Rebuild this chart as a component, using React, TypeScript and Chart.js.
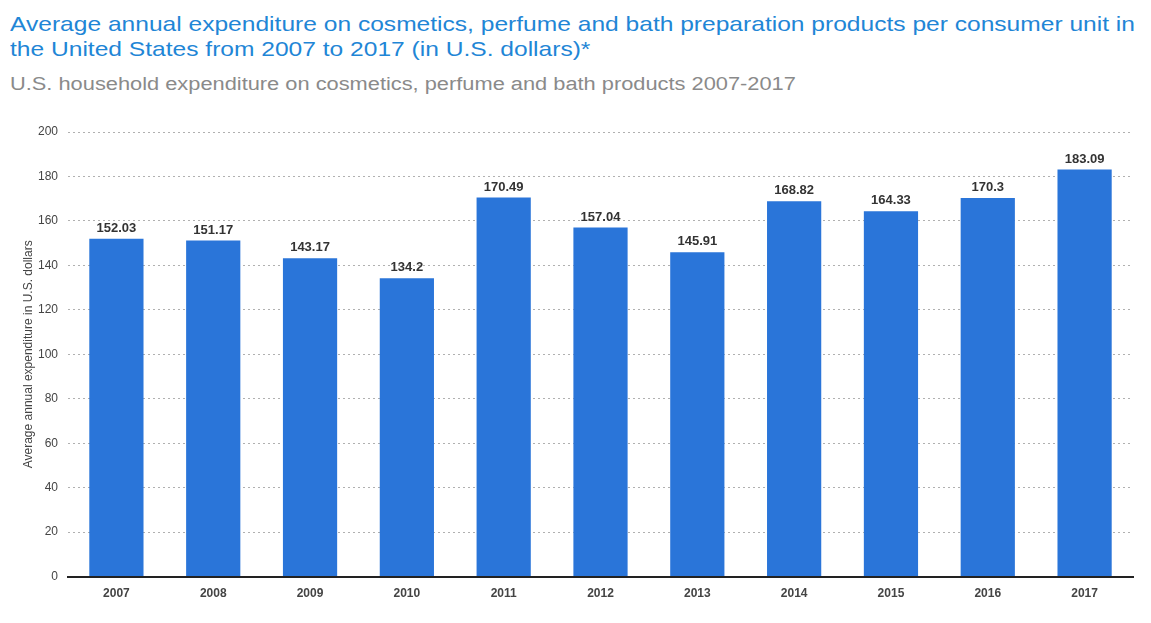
import React, { useEffect, useRef } from "react";
import { Chart, registerables } from "chart.js";

Chart.register(...registerables);

const categories = ["2007", "2008", "2009", "2010", "2011", "2012", "2013", "2014", "2015", "2016", "2017"];
const values = [152.03, 151.17, 143.17, 134.2, 170.49, 157.04, 145.91, 168.82, 164.33, 170.3, 183.09];
const valueLabels = ["152.03", "151.17", "143.17", "134.2", "170.49", "157.04", "145.91", "168.82", "164.33", "170.3", "183.09"];
const titleLines = [
  "Average annual expenditure on cosmetics, perfume and bath preparation products per consumer unit in",
  "the United States from 2007 to 2017 (in U.S. dollars)*",
];
const subtitle = "U.S. household expenditure on cosmetics, perfume and bath products 2007-2017";
const yAxisTitle = "Average annual expenditure in U.S. dollars";

const FONT = "'Liberation Sans', Arial, Helvetica, sans-serif";

const valueLabelPlugin = {
  id: "valueLabels",
  afterDatasetsDraw(chart: any) {
    const ctx = chart.ctx;
    const meta = chart.getDatasetMeta(0);
    ctx.save();
    ctx.font = `bold 13px ${FONT}`;
    ctx.fillStyle = "#333333";
    ctx.textAlign = "center";
    ctx.textBaseline = "alphabetic";
    meta.data.forEach((bar: any, i: number) => {
      ctx.fillText(valueLabels[i], bar.x, bar.y - 7);
    });
    ctx.restore();
  },
};

export default function App() {
  const canvasRef = useRef<HTMLCanvasElement | null>(null);

  useEffect(() => {
    document.body.style.margin = "0";
    const canvas = canvasRef.current;
    if (!canvas) return;
    const chart = new Chart(canvas, {
      type: "bar",
      data: {
        labels: categories,
        datasets: [
          {
            data: values,
            backgroundColor: "#2a75d9",
            categoryPercentage: 1,
            barPercentage: 0.56,
          },
        ],
      },
      options: {
        animation: false,
        responsive: false,
        maintainAspectRatio: false,
        layout: { padding: { top: 32, right: 18, bottom: 20, left: 0 } },
        plugins: {
          legend: { display: false },
          tooltip: { enabled: false },
          title: { display: false },
        },
        scales: {
          x: {
            grid: { display: false },
            border: { display: true, color: "#222222", width: 2 },
            ticks: {
              color: "#444444",
              font: { family: FONT, size: 12, weight: "bold" },
              padding: 2,
            },
          },
          y: {
            min: 0,
            max: 200,
            afterFit(scale: any) {
              scale.width = 68;
            },
            grid: {
              color: "#b0b0b0",
              lineWidth: 1,
              drawTicks: false,
            },
            border: { display: false, dash: [2, 3] },
            ticks: {
              stepSize: 20,
              color: "#444444",
              font: { family: FONT, size: 12 },
              padding: 10,
            },
            title: {
              display: true,
              text: yAxisTitle,
              color: "#444444",
              font: { family: FONT, size: 12 },
              padding: { top: 21, bottom: 0 },
            },
          },
        },
      },
      plugins: [valueLabelPlugin],
    });
    return () => chart.destroy();
  }, []);

  return (
    <div style={{ position: "fixed", left: 0, top: 0, width: 1151, height: 623, background: "#ffffff", fontFamily: FONT }}>
      <div
        style={{
          position: "absolute",
          left: 10,
          top: 11,
          color: "#1f86d6",
          fontSize: 21,
          lineHeight: "25px",
          whiteSpace: "nowrap",
          transform: "scaleX(1.17)",
          transformOrigin: "left top",
        }}
      >
        {titleLines.map((l, i) => (
          <div key={i}>{l}</div>
        ))}
      </div>
      <div
        style={{
          position: "absolute",
          left: 10,
          top: 73,
          color: "#8a8a8a",
          fontSize: 18,
          lineHeight: "22px",
          whiteSpace: "nowrap",
          transform: "scaleX(1.212)",
          transformOrigin: "left top",
        }}
      >
        {subtitle}
      </div>
      <canvas ref={canvasRef} width={1151} height={523} style={{ position: "absolute", left: 0, top: 100, width: 1151, height: 523 }} />
    </div>
  );
}
